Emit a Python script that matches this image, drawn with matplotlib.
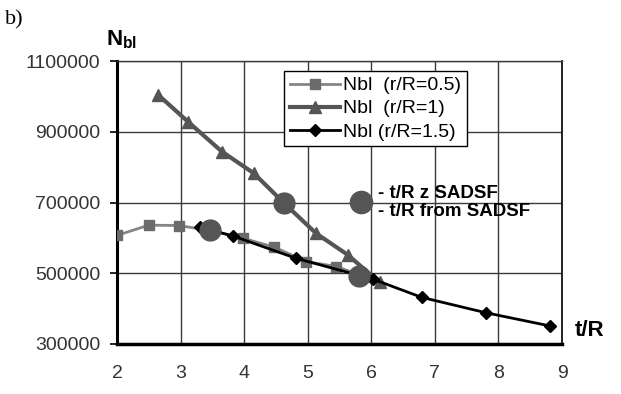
import matplotlib.pyplot as plt
from matplotlib.lines import Line2D
from matplotlib.ticker import FormatStrFormatter

plt.rcParams['font.family'] = ['Liberation Sans', 'DejaVu Sans']
plt.rcParams['mathtext.fontset'] = 'custom'
plt.rcParams['mathtext.rm'] = 'Liberation Sans'
plt.rcParams['mathtext.bf'] = 'Liberation Sans:bold'

# data
x_05 = [2.0, 2.5, 2.97, 3.5, 3.98, 4.47, 4.98, 5.45, 5.9]
n_05 = [607000, 636000, 635000, 620000, 599000, 574000, 533000, 519000, 490000]

x_1 = [2.65, 3.12, 3.65, 4.15, 4.63, 5.13, 5.63, 6.13]
n_1 = [1004000, 928000, 844000, 783000, 698000, 613000, 552000, 474000]

x_15 = [3.31, 3.83, 4.82, 6.03, 6.79, 7.81, 8.81]
n_15 = [630000, 605000, 542000, 483000, 432000, 388000, 351000]

x_sadsf = [3.47, 4.63, 5.8]
n_sadsf = [622000, 698000, 492000]

labels = ['Nbl  (r/R=0.5)', 'Nbl  (r/R=1)', 'Nbl (r/R=1.5)']
sadsf_label = '- t/R z SADSF\n- t/R from SADSF'
xticks = [2, 3, 4, 5, 6, 7, 8, 9]
yticks = [300000, 500000, 700000, 900000, 1100000]

fig = plt.figure(figsize=(6.21, 3.94), dpi=100)
ax = fig.add_axes([0.1884, 0.127, 0.7166, 0.718])

ax.grid(True, color='#3a3a3a', linewidth=1.0)
ax.set_axisbelow(True)

l1, = ax.plot(x_05, n_05, '-', color='#858585', lw=2, marker='s', ms=7,
              mfc='#6b6b6b', mec='#6b6b6b', label=labels[0], zorder=3)
l2, = ax.plot(x_1, n_1, '-', color='#555555', lw=3, marker='^', ms=8,
              mfc='#555555', mec='#555555', label=labels[1], zorder=3)
l3, = ax.plot(x_15, n_15, '-', color='black', lw=2, marker='D', ms=6,
              mfc='black', mec='black', label=labels[2], zorder=4)
ax.plot(x_sadsf, n_sadsf, 'o', color='#555555', ms=15, zorder=5)

ax.set_xlim(2, 9)
ax.set_ylim(300000, 1100000)
ax.set_xticks(xticks)
ax.set_yticks(yticks)
ax.yaxis.set_major_formatter(FormatStrFormatter('%d'))
ax.tick_params(axis='x', length=0, pad=15, labelsize=14, labelcolor='#333333')
ax.tick_params(axis='y', length=5, width=1.2, pad=7, labelsize=14, labelcolor='#333333')

ax.spines['left'].set_linewidth(2.2)
ax.spines['bottom'].set_linewidth(2.5)
ax.spines['right'].set_linewidth(1.2)
ax.spines['top'].set_color('#3a3a3a')
ax.spines['top'].set_linewidth(1.0)

leg = ax.legend(handles=[l1, l2, l3], loc='upper left',
                bbox_to_anchor=(0.375, 0.965), fontsize=14, frameon=True,
                fancybox=False, edgecolor='black', framealpha=1,
                handlelength=2.6, handletextpad=0.15, borderpad=0.3,
                labelspacing=0.28, borderaxespad=0)
leg.get_frame().set_linewidth(1.0)
ax.add_artist(leg)

circ = Line2D([], [], linestyle='none', marker='o', ms=16, color='#555555')
leg2 = ax.legend(handles=[circ], labels=[sadsf_label], loc='center left',
                 bbox_to_anchor=(0.49, 0.5), frameon=False, handlelength=1.0,
                 handletextpad=0.4, prop={'weight': 'bold', 'size': 13.5})
for t in leg2.get_texts():
    t.set_linespacing(1.1)

fig.text(0.008, 0.975, 'b)', family='Liberation Serif', fontsize=16, va='top')
fig.text(0.170, 0.87, r'$\mathbf{N}_{\mathbf{bl}}$', fontsize=16, va='bottom')
fig.text(0.925, 0.162, 't/R', fontsize=16, weight='bold', ha='left', va='center')

fig.savefig('out.png', dpi=100)
